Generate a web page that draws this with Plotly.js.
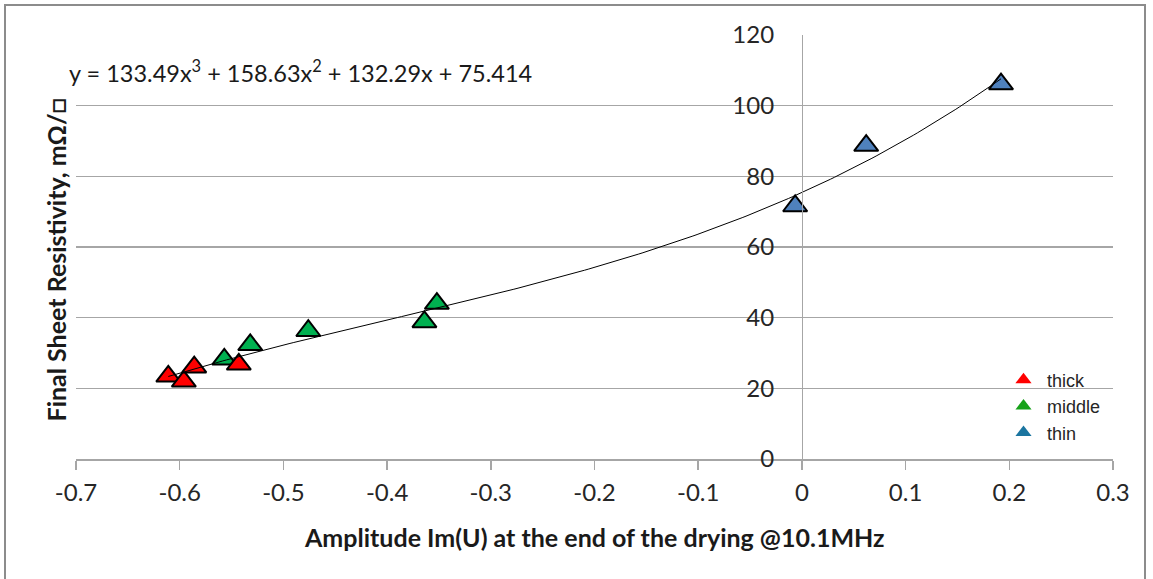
<!DOCTYPE html>
<html>
<head>
<meta charset="utf-8">
<script src="https://cdn.plot.ly/plotly-3.0.1.min.js"></script>
<style>
  html, body { margin: 0; padding: 0; background: #ffffff; }
  #chart { position: absolute; left: 0; top: 0; width: 1153px; height: 579px; }
  #frame { position: absolute; left: 4px; top: 4px; width: 1142px; height: 580px;
           border: 2px solid #8c8c8c; box-sizing: border-box; pointer-events: none; }
</style>
</head>
<body>
<div id="chart"></div>
<div id="frame"></div>
<script>
// Amplitude Im(U) at end of drying (x) vs. final sheet resistivity (y), per layer thickness
const thickX  = [-0.611, -0.596, -0.586, -0.543];
const thickY  = [23.4, 22.0, 26.0, 26.8];
const middleX = [-0.557, -0.532, -0.476, -0.364, -0.352];
const middleY = [28.2, 32.3, 36.3, 38.8, 44.0];
const thinX   = [-0.0065, 0.062, 0.192];
const thinY   = [71.6, 88.7, 106.1];

// Cubic trendline coefficients, highest power first
const trendCoef = [133.49, 158.63, 132.29, 75.414];

const xTickVals = [-0.7, -0.6, -0.5, -0.4, -0.3, -0.2, -0.1, 0, 0.1, 0.2, 0.3];
const xTickText = ['-0.7', '-0.6', '-0.5', '-0.4', '-0.3', '-0.2', '-0.1', '0', '0.1', '0.2', '0.3'];
const yTickVals = [0, 20, 40, 60, 80, 100, 120];
const yTickText = ['0', '20', '40', '60', '80', '100', '120'];

const seriesNames = ['thick', 'middle', 'thin'];

// trendline sampled across the span of all measurements
const allX = thickX.concat(middleX, thinX);
const xMin = Math.min.apply(null, allX), xMax = Math.max.apply(null, allX);
const fitX = [], fitY = [];
for (let i = 0; i <= 200; i++) {
  const x = xMin + (xMax - xMin) * i / 200;
  fitX.push(x);
  fitY.push(((trendCoef[0] * x + trendCoef[1]) * x + trendCoef[2]) * x + trendCoef[3]);
}

function pts(x, y, color) {
  return {
    x: x, y: y, type: 'scatter', mode: 'markers', showlegend: false, hoverinfo: 'x+y',
    marker: { symbol: 'triangle-up', size: 21, color: color, line: { color: '#000000', width: 2 } }
  };
}
function key(name, color) {
  return {
    x: [null], y: [null], type: 'scatter', mode: 'markers', name: name, showlegend: true,
    marker: { symbol: 'triangle-up', size: 14, color: color, line: { width: 0 } }
  };
}

const data = [
  pts(middleX, middleY, '#00b050'),
  pts(thickX, thickY, '#ff0000'),
  pts(thinX, thinY, '#4f81bd'),
  { x: fitX, y: fitY, type: 'scatter', mode: 'lines', showlegend: false, hoverinfo: 'skip',
    line: { color: '#000000', width: 1 } },
  key(seriesNames[0], '#ff0000'),
  key(seriesNames[1], '#17a21a'),
  key(seriesNames[2], '#1b75a0')
];

const tickFont = { family: 'Lato, "Open Sans", sans-serif', size: 24, color: '#262626' };
const fmt = (c) => ' + ' + c;
const eqText = 'y = ' + trendCoef[0] + 'x<sup>3</sup>' + fmt(trendCoef[1]) + 'x<sup>2</sup>' +
               fmt(trendCoef[2]) + 'x' + fmt(trendCoef[3]);

const layout = {
  width: 1153, height: 579,
  margin: { l: 76, r: 40, t: 35, b: 120, pad: 0 },
  paper_bgcolor: '#ffffff', plot_bgcolor: '#ffffff',
  showlegend: true,
  legend: {
    xref: 'paper', yref: 'paper', xanchor: 'left', yanchor: 'top',
    font: { family: '"Liberation Sans", Arial, sans-serif', size: 18, color: '#262626' },
    bgcolor: 'rgba(0,0,0,0)', tracegroupgap: 0, itemwidth: 37
  },
  xaxis: {
    range: [-0.7, 0.3], tickmode: 'array', tickvals: xTickVals, ticktext: xTickText,
    showgrid: false, zeroline: false, showline: true, linecolor: '#a6a6a6', linewidth: 1.5,
    ticks: 'outside', ticklen: 9, tickwidth: 1.5, tickcolor: '#a6a6a6',
    tickfont: tickFont, ticklabelstandoff: 3
  },
  yaxis: {
    range: [0, 120], tickmode: 'array', tickvals: yTickVals, ticktext: yTickText,
    anchor: 'free', position: 0.7, side: 'left',
    showgrid: true, gridcolor: '#a6a6a6', gridwidth: 1.3, zeroline: false,
    showline: true, linecolor: '#a6a6a6', linewidth: 1.5, ticks: '',
    tickfont: tickFont, ticklabelstandoff: 23
  },
  annotations: [
    { text: eqText, xref: 'paper', yref: 'paper',
      x: -0.0087, y: 0.915, xanchor: 'left', yanchor: 'middle', showarrow: false,
      font: { family: 'Lato, "Open Sans", sans-serif', size: 23.5, color: '#1a1a1a' } },
    { text: '<b>Amplitude Im(U) at the end of the drying @10.1MHz</b>', xref: 'paper', yref: 'paper',
      x: 0.5, y: -0.183, xanchor: 'center', yanchor: 'middle', showarrow: false,
      font: { family: 'Lato, "Open Sans", sans-serif', size: 25, color: '#1a1a1a' } },
    { text: '<b>Final Sheet Resistivity, mΩ/□</b>', xref: 'paper', yref: 'paper',
      x: -0.0195, y: 0.47, xanchor: 'center', yanchor: 'middle', textangle: -90, showarrow: false,
      font: { family: 'Lato, "Open Sans", sans-serif', size: 25, color: '#1a1a1a' } }
  ]
};
// legend placement in pixels -> paper fraction
layout.legend.x = (1000 - 76) / (1153 - 76 - 40);
layout.legend.y = (458.5 - 361) / (579 - 35 - 120);

Plotly.newPlot('chart', data, layout, { displayModeBar: false, staticPlot: true });
</script>
</body>
</html>
